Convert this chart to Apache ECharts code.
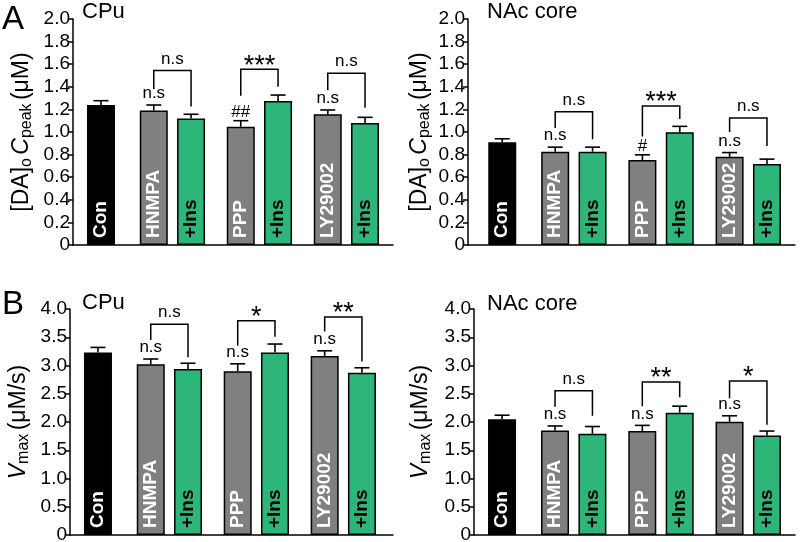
<!DOCTYPE html>
<html><head><meta charset="utf-8">
<script src="https://cdn.jsdelivr.net/npm/echarts@6/dist/echarts.min.js"></script>
<style>html,body{margin:0;padding:0;background:#fff}#c{width:800px;height:542px}</style>
</head><body><div id="c"></div>
<script>
// ---------- data ----------
const groups = ['Con', 'HNMPA', '+Ins', 'PPP', '+Ins', 'LY29002', '+Ins'];
const groupKind = ['con', 'inh', 'ins', 'inh', 'ins', 'inh', 'ins'];

const cpuCpeakMean = [1.24, 1.19, 1.12, 1.047, 1.274, 1.157, 1.08];
const cpuCpeakSem  = [0.037, 0.049, 0.037, 0.053, 0.053, 0.038, 0.05];
const nacCpeakMean = [0.91, 0.826, 0.826, 0.752, 0.997, 0.78, 0.717];
const nacCpeakSem  = [0.03, 0.04, 0.04, 0.046, 0.053, 0.038, 0.043];
const cpuVmaxMean  = [3.23, 3.02, 2.94, 2.90, 3.23, 3.17, 2.87];
const cpuVmaxSem   = [0.09, 0.095, 0.10, 0.13, 0.15, 0.09, 0.09];
const nacVmaxMean  = [2.05, 1.85, 1.79, 1.84, 2.165, 2.005, 1.76];
const nacVmaxSem   = [0.07, 0.08, 0.13, 0.10, 0.115, 0.105, 0.08];

// marks above single bars
const cpuCpeakMarks = ['', 'n.s', '', '##', '', 'n.s', ''];
const nacCpeakMarks = ['', 'n.s', '', '#', '', 'n.s', ''];
const cpuVmaxMarks  = ['', 'n.s', '', 'n.s', '', 'n.s', ''];
const nacVmaxMarks  = ['', 'n.s', '', 'n.s', '', 'n.s', ''];

// comparison pairs (bar index a, bar index b)
const pairs = [[1, 2], [3, 4], [5, 6]];
// bracket [top, left leg end, right leg end] in axis units
const cpuCpeakBrackets = [[1.545, 1.38, 1.225], [1.555, 1.32, 1.40], [1.52, 1.37, 1.215]];
const nacCpeakBrackets = [[1.18, 1.035, 0.935], [1.23, 0.96, 1.115], [1.125, 1.0, 0.876]];
const cpuVmaxBrackets  = [[3.73, 3.45, 3.145], [3.79, 3.35, 3.51], [3.86, 3.6, 3.07]];
const nacVmaxBrackets  = [[2.555, 2.27, 2.11], [2.71, 2.28, 2.44], [2.725, 2.42, 1.95]];
const cpuCpeakPairLabels = ['n.s', '***', 'n.s'];
const nacCpeakPairLabels = ['n.s', '***', 'n.s'];
const cpuVmaxPairLabels  = ['n.s', '*', '**'];
const nacVmaxPairLabels  = ['n.s', '**', '*'];

const cpeakTicks = ['0', '0.2', '0.4', '0.6', '0.8', '1.0', '1.2', '1.4', '1.6', '1.8', '2.0'];
const vmaxTicks  = ['0', '0.5', '1.0', '1.5', '2.0', '2.5', '3.0', '3.5', '4.0'];

// ---------- layout ----------
const FONT = '"Liberation Sans", Arial, Helvetica, sans-serif';
const slotOffsets = [0, 17, 29, 45, 57, 73, 85]; // bar slots on the fine category axis
const colors = { con: '#000000', inh: '#808080', ins: '#2eb67a' };
const labelColors = { con: '#ffffff', inh: '#ffffff', ins: '#000000' };

const panels = [
  { grid: { left: 73, top: 19, width: 320, height: 226 }, lead: 9, total: 103,
    max: 2, step: 0.2, ticks: cpeakTicks, mean: cpuCpeakMean, sem: cpuCpeakSem,
    marks: cpuCpeakMarks, brackets: cpuCpeakBrackets, pairLabels: cpuCpeakPairLabels,
    name: '{n|[DA]}{s|o} {i|C}{s|peak} {n|(μM)}', nameGap: 38 },
  { grid: { left: 468, top: 19, width: 327, height: 226 }, lead: 11, total: 105,
    max: 2, step: 0.2, ticks: cpeakTicks, mean: nacCpeakMean, sem: nacCpeakSem,
    marks: nacCpeakMarks, brackets: nacCpeakBrackets, pairLabels: nacCpeakPairLabels,
    name: '{n|[DA]}{s|o} {i|C}{s|peak} {n|(μM)}', nameGap: 35 },
  { grid: { left: 70, top: 309, width: 323, height: 226 }, lead: 9, total: 104,
    max: 4, step: 0.5, ticks: vmaxTicks, mean: cpuVmaxMean, sem: cpuVmaxSem,
    marks: cpuVmaxMarks, brackets: cpuVmaxBrackets, pairLabels: cpuVmaxPairLabels,
    name: '{i|V}{s|max} {n|(μM/s)}', nameGap: 38 },
  { grid: { left: 474, top: 309, width: 321, height: 226 }, lead: 9, total: 103,
    max: 4, step: 0.5, ticks: vmaxTicks, mean: nacVmaxMean, sem: nacVmaxSem,
    marks: nacVmaxMarks, brackets: nacVmaxBrackets, pairLabels: nacVmaxPairLabels,
    name: '{i|V}{s|max} {n|(μM/s)}', nameGap: 40 }
];

const nameRich = {
  n: { fontSize: 23, fontFamily: FONT, color: '#000', lineHeight: 26 },
  i: { fontSize: 23, fontFamily: FONT, color: '#000', fontStyle: 'italic', lineHeight: 26 },
  s: { fontSize: 16, fontFamily: FONT, color: '#000', lineHeight: 13, verticalAlign: 'bottom' }
};

const grids = [], xAxes = [], yAxes = [], series = [];

panels.forEach((p, k) => {
  grids.push(Object.assign({ outerBoundsMode: 'none', containLabel: false }, p.grid));
  const cats = [];
  for (let i = 0; i <= p.total; i++) cats.push(String(i));
  xAxes.push({
    type: 'category', gridIndex: k, data: cats, boundaryGap: false,
    axisLine: { lineStyle: { color: '#000', width: 1.5 } },
    axisTick: { show: false }, axisLabel: { show: false }, splitLine: { show: false }
  });
  yAxes.push({
    type: 'value', gridIndex: k, min: 0, max: p.max, interval: p.step,
    axisLine: { show: true, lineStyle: { color: '#000', width: 1.5 } },
    axisTick: { show: true, length: 5, lineStyle: { color: '#000', width: 1.5 } },
    splitLine: { show: false },
    axisLabel: { fontSize: 19, fontFamily: FONT, color: '#000', margin: 3,
      formatter: (v, idx) => p.ticks[idx] },
    name: p.name, nameLocation: 'middle', nameRotate: 90, nameGap: p.nameGap,
    nameTextStyle: { rich: nameRich }
  });
  const slots = slotOffsets.map(o => p.lead + o);

  series.push({
    type: 'bar', xAxisIndex: k, yAxisIndex: k, barWidth: 28, z: 2,
    data: groups.map((g, i) => ({
      value: [slots[i], p.mean[i]],
      itemStyle: { color: colors[groupKind[i]], borderColor: '#000', borderWidth: 1.5 },
      label: { color: labelColors[groupKind[i]] }
    })),
    label: {
      show: true, position: 'insideBottom', rotate: 90, align: 'left', verticalAlign: 'middle',
      distance: 7, fontSize: 19, fontWeight: 'bold', fontFamily: FONT,
      formatter: prm => groups[prm.dataIndex]
    },
    animation: false
  });

  // error bars (upper)
  series.push({
    type: 'custom', xAxisIndex: k, yAxisIndex: k, z: 5, animation: false,
    encode: { x: 0, y: [1, 2] },
    data: groups.map((g, i) => [slots[i], p.mean[i], p.mean[i] + p.sem[i]]),
    renderItem: (params, api) => {
      const b = api.coord([api.value(0), api.value(1)]);
      const t = api.coord([api.value(0), api.value(2)]);
      const st = { stroke: '#000', lineWidth: 1.6 };
      return { type: 'group', children: [
        { type: 'line', shape: { x1: b[0], y1: b[1], x2: t[0], y2: t[1] }, style: st },
        { type: 'line', shape: { x1: t[0] - 7.5, y1: t[1], x2: t[0] + 7.5, y2: t[1] }, style: st }
      ] };
    }
  });

  // single-bar marks (n.s, #, ##)
  series.push({
    type: 'custom', xAxisIndex: k, yAxisIndex: k, z: 6, animation: false,
    encode: { x: 0, y: 1 },
    data: groups.map((g, i) => [slots[i], p.mean[i] + p.sem[i]]),
    renderItem: (params, api) => {
      const txt = p.marks[params.dataIndex];
      if (!txt) return null;
      const c = api.coord([api.value(0), api.value(1)]);
      const hash = txt.indexOf('#') >= 0;
      return { type: 'text', x: c[0], y: c[1] - (hash ? 8.5 : 11.5),
        style: { text: txt, fill: '#000', font: '17px ' + FONT, align: 'center', verticalAlign: 'middle' } };
    }
  });

  // comparison brackets
  series.push({
    type: 'custom', xAxisIndex: k, yAxisIndex: k, z: 6, animation: false,
    encode: { x: [0, 1], y: [2, 3, 4] },
    data: pairs.map((pr, j) => [slots[pr[0]], slots[pr[1]], p.brackets[j][0], p.brackets[j][1], p.brackets[j][2]]),
    renderItem: (params, api) => {
      const a = api.coord([api.value(0), api.value(3)]);
      const b = api.coord([api.value(0), api.value(2)]);
      const c = api.coord([api.value(1), api.value(2)]);
      const d = api.coord([api.value(1), api.value(4)]);
      const lbl = p.pairLabels[params.dataIndex];
      const star = lbl.indexOf('*') >= 0;
      return { type: 'group', children: [
        { type: 'polyline', shape: { points: [a, b, c, d] }, style: { stroke: '#000', lineWidth: 1.5, fill: null } },
        { type: 'text', x: (b[0] + c[0]) / 2, y: b[1] - (star ? 3 : 11.5),
          style: { text: lbl, fill: '#000', font: (star ? '27px ' : '17px ') + FONT, align: 'center', verticalAlign: 'middle' } }
      ] };
    }
  });
});

const graphics = [
  { type: 'text', left: 2, top: 3, style: { text: 'A', fill: '#000', font: '33px ' + FONT } },
  { type: 'text', left: 2, top: 288, style: { text: 'B', fill: '#000', font: '33px ' + FONT } },
  { type: 'text', left: 82, top: 1, style: { text: 'CPu', fill: '#000', font: '22px ' + FONT } },
  { type: 'text', left: 487, top: 1, style: { text: 'NAc core', fill: '#000', font: '22px ' + FONT } },
  { type: 'text', left: 82, top: 292, style: { text: 'CPu', fill: '#000', font: '22px ' + FONT } },
  { type: 'text', left: 487, top: 293, style: { text: 'NAc core', fill: '#000', font: '22px ' + FONT } }
];

const chart = echarts.init(document.getElementById('c'), null, { renderer: 'canvas' });
chart.setOption({
  backgroundColor: '#fff', animation: false,
  grid: grids, xAxis: xAxes, yAxis: yAxes, series: series, graphic: graphics
});
</script></body></html>
